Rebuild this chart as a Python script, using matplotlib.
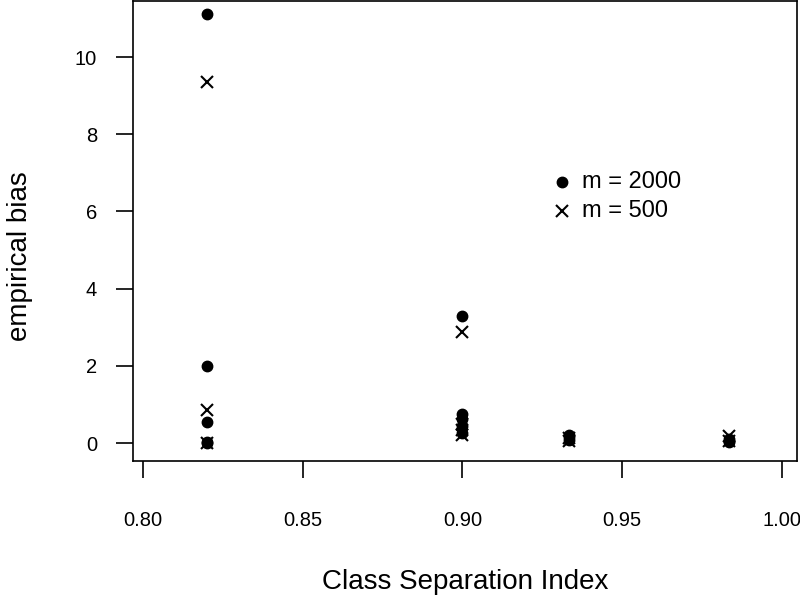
import matplotlib
matplotlib.use("Agg")
import matplotlib.pyplot as plt

plt.rcParams['font.family'] = ['Liberation Sans', 'DejaVu Sans']

# class separation index for each run
x_dot = [0.82, 0.82, 0.82, 0.82, 0.82,
         0.90, 0.90, 0.90, 0.90, 0.90,
         0.9335, 0.9335, 0.9335,
         0.9834, 0.9834, 0.9834]
y_dot = [11.12, 1.99, 0.55, 0.02, 0.0,
         3.30, 0.75, 0.62, 0.45, 0.25,
         0.22, 0.15, 0.08,
         0.10, 0.05, 0.02]

x_cross = [0.82, 0.82, 0.82,
           0.90, 0.90, 0.90, 0.90,
           0.9335, 0.9335,
           0.9834, 0.9834]
y_cross = [9.35, 0.85, 0.0,
           2.88, 0.50, 0.35, 0.20,
           0.12, 0.05,
           0.18, 0.05]

legend_labels = ["m = 2000", "m = 500"]

fig = plt.figure(figsize=(8, 6.06), dpi=100)
ax = fig.add_axes([0.16625, 0.2393, 0.83, 0.7590])

ax.plot(x_dot, y_dot, 'o', color='black', markersize=7.5, linestyle='none')
ax.plot(x_cross, y_cross, 'x', color='black', markersize=8, markeredgewidth=1.5, linestyle='none')

# legend drawn like R's legend(): symbols with text, no box
ax.plot([0.931], [6.77], 'o', color='black', markersize=7.5, clip_on=False)
ax.plot([0.931], [6.0], 'x', color='black', markersize=8, markeredgewidth=1.5, clip_on=False)
ax.text(0.9375, 6.77, legend_labels[0], fontsize=17, va='center', ha='left')
ax.text(0.9375, 6.0, legend_labels[1], fontsize=17, va='center', ha='left')

ax.set_xlim(0.7969, 1.0047)
ax.set_ylim(-0.465, 11.45)
ax.set_xticks([0.80, 0.85, 0.90, 0.95, 1.00])
ax.set_xticklabels(["0.80", "0.85", "0.90", "0.95", "1.00"])
ax.set_yticks([0, 2, 4, 6, 8, 10])

ax.tick_params(direction='out', length=12, width=1.2, labelsize=14.5, pad=24)
ax.tick_params(axis='y', pad=14)
for s in ax.spines.values():
    s.set_linewidth(1.2)

ax.set_xlabel("Class Separation Index", fontsize=20, labelpad=28)
ax.set_ylabel("empirical bias", fontsize=20)
ax.yaxis.set_label_coords(-0.15, 0.445)

fig.savefig("out.png", dpi=100)
